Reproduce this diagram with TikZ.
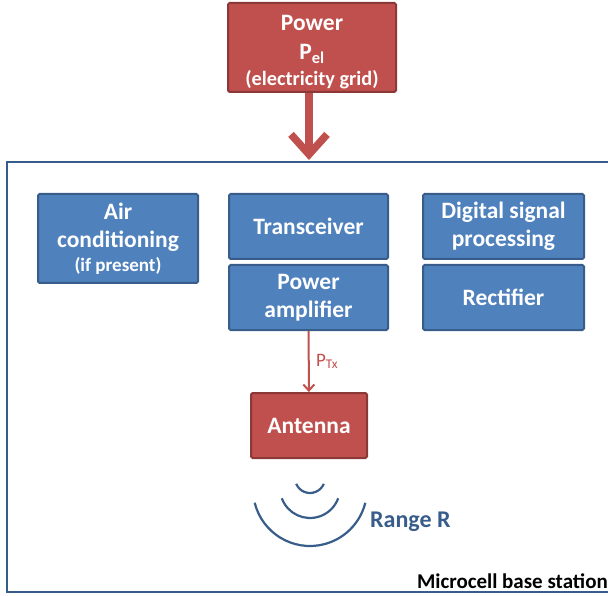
\documentclass[tikz,border=0pt]{standalone}
\usepackage{fontspec}
\setmainfont{Carlito}
\usetikzlibrary{arrows.meta}
\definecolor{bfill}{HTML}{4F81BD}
\definecolor{bline}{HTML}{385D8A}
\definecolor{rfill}{HTML}{C0504D}
\definecolor{rline}{HTML}{8C3836}
\tikzset{
  bluebox/.style={draw=bline, fill=bfill, line width=2pt, rounded corners=1.5pt, inner sep=0pt,
    text=white, font=\fontsize{23.5}{28}\selectfont\bfseries, align=center},
  redbox/.style={draw=rline, fill=rfill, line width=2pt, rounded corners=1.5pt, inner sep=0pt,
    text=white, font=\fontsize{23.5}{28}\selectfont\bfseries, align=center},
  wave/.style={draw=bline, line width=2.2pt},
}
\begin{document}
\begin{tikzpicture}[x=1pt,y=-1pt]
\useasboundingbox (0,0) rectangle (608,596);
% frame
\coordinate (ftr) at (615,162);
\coordinate (fbr) at (615,592);
\draw[bline, line width=2.5pt] (ftr) -- (7,162) -- (7,592) -- (fbr);
% power
\node[redbox, minimum width=168pt, minimum height=89pt] (power) at (312,47.5)
  {\rule{0pt}{24pt}Power\\[1pt]P\textsubscript{el}\\[-2pt]{\fontsize{20.3}{24}\selectfont(electricity grid)}};
\coordinate (fin) at (309,160);
\draw[rfill, line width=7.5pt, -{Straight Barb[length=20pt,width=36pt,line width=7.5pt]}] (power.south -| fin) -- (fin);
% boxes
\node[bluebox, minimum width=160pt, minimum height=89pt] (air) at (118,238.5)
  {Air\\conditioning\\[-4pt]{\fontsize{19}{22}\selectfont(if present)}};
\node[bluebox, minimum width=159pt, minimum height=65pt] (trx) at (308.5,226.5) {Transceiver};
\node[bluebox, minimum width=159pt, minimum height=65pt] (pa) at (308.5,297.5) {Power\\amplifier};
\node[bluebox, minimum width=161pt, minimum height=65pt] (dsp) at (503.5,226.5) {Digital signal\\processing};
\node[bluebox, minimum width=161pt, minimum height=65pt] (rect) at (503.5,297.5) {Rectifier};
\node[redbox, minimum width=116pt, minimum height=65pt] (ant) at (309,425.5) {Antenna};
\draw[rfill, line width=2pt, -{Straight Barb[length=6pt,width=11pt,line width=2pt]}] (pa) -- (ant)
  node[midway, right=3pt, text=rfill, font=\fontsize{19}{22}\selectfont] {P\textsubscript{Tx}};
% waves
\draw[wave] (310,478) ++(157:15) arc[start angle=157, end angle=23, radius=15];
\draw[wave] (310,488) ++(160:30) arc[start angle=160, end angle=20, radius=30];
\draw[wave] (310,489) ++(166:57) arc[start angle=166, end angle=14, radius=57];
\node[text=bline, font=\fontsize{24}{28}\selectfont\bfseries, anchor=west, inner sep=0pt] (range) at (370,522) {Range R};
\node[font=\fontsize{21}{24}\selectfont\bfseries, anchor=south east, inner sep=0pt] (mbs) at (608,589) {Microcell base station};
\end{tikzpicture}
\end{document}
